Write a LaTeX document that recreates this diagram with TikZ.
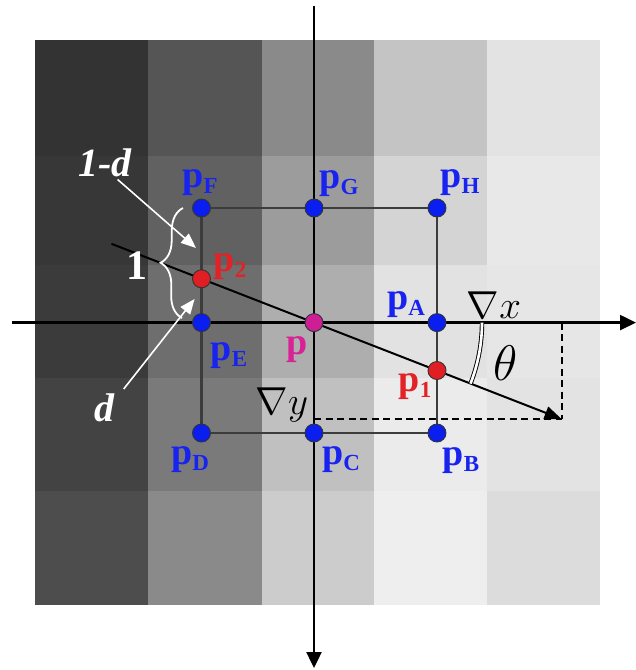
\documentclass[tikz,border=0pt]{standalone}
\usepackage{fix-cm}
\usepackage{fontspec}
\setmainfont{Liberation Serif}
\usetikzlibrary{arrows.meta,decorations.pathreplacing}
\definecolor{dotblue}{RGB}{10,30,240}
\definecolor{txtblue}{RGB}{25,35,240}
\definecolor{dotred}{RGB}{225,30,35}
\definecolor{txtred}{RGB}{225,35,40}
\definecolor{dotmag}{RGB}{205,30,150}
\definecolor{txtmag}{RGB}{215,35,150}
\definecolor{gridc}{RGB}{60,60,60}
\newcommand\pLab[1]{{\fontsize{38}{38}\selectfont\bfseries p}{\raisebox{-6pt}{\fontsize{23}{23}\selectfont\bfseries #1}}}
\begin{document}
\begin{tikzpicture}[x=1pt,y=-1pt,
  dotb/.style={circle, minimum size=18pt, inner sep=0pt, fill=dotblue, draw=black!80, line width=0.9pt},
  dotr/.style={dotb, fill=dotred},
  dotm/.style={dotb, fill=dotmag},
  lab/.style={inner sep=0pt, anchor=center},
  bluelab/.style={lab, text=txtblue},
  redlab/.style={lab, text=txtred},
  whitelab/.style={lab, text=white, font=\fontsize{42}{42}\selectfont\bfseries},
  gridl/.style={draw=gridc, line width=2.8pt},
  axis/.style={draw=black, line width=2.4pt, -{Triangle[length=16pt,width=15pt]}},
  gradl/.style={draw=black, line width=2pt, -{Triangle[length=17pt,width=13pt]}},
  dashl/.style={draw=black, line width=1.8pt, dash pattern=on 7pt off 4.5pt},
  warrow/.style={draw=white, line width=1.6pt, -{Triangle[length=15pt,width=12pt]}},
  mathlab/.style={lab, text=black, font=\fontsize{39}{39}\selectfont}
]
\useasboundingbox (0,0) rectangle (636,670);
\fill[white] (0,0) rectangle (636,670);
% gray cells
\foreach \ya/\yb/\ga/\gb/\gc/\gd/\ge in {40/156/51/85/138/196/227, 156/265/55/97/156/212/232, 265/378/59/110/174/226/230, 378/491/67/122/192/235/227, 491/605/77/138/204/238/220}{
  \definecolor{ca}{RGB}{\ga,\ga,\ga}
  \definecolor{cb}{RGB}{\gb,\gb,\gb}
  \definecolor{cc}{RGB}{\gc,\gc,\gc}
  \definecolor{cd}{RGB}{\gd,\gd,\gd}
  \definecolor{ce}{RGB}{\ge,\ge,\ge}
  \fill[ca] (35,\ya) rectangle (148.5,\yb);
  \fill[cb] (148,\ya) rectangle (262,\yb);
  \fill[cc] (261.5,\ya) rectangle (374,\yb);
  \fill[cd] (373.5,\ya) rectangle (487.5,\yb);
  \fill[ce] (487,\ya) rectangle (600,\yb);
}
% grid coordinates
\coordinate (cF) at (201.5,208);
\coordinate (cG) at (314,208);
\coordinate (cH) at (437,208);
\coordinate (cE) at (201.5,322.6);
\coordinate (cP) at (314,322.6);
\coordinate (cA) at (437,322.6);
\coordinate (cD) at (201.5,433);
\coordinate (cC) at (314,433);
\coordinate (cB) at (437,433);
\coordinate (c2) at (201.5,278.8);
\coordinate (c1) at (437,370.5);
% grid lines
\draw[gridl] (cF) -- (cH) -- (cB) -- (cD) -- cycle;
\draw[gridl] (cG) -- (cC);
\draw[gridl] (cE) -- (cA);
% axes
\coordinate (axL) at (12,322.6);
\coordinate (axR) at (636,322.6);
\coordinate (axT) at (314,6);
\coordinate (axB) at (314,668);
\draw[axis] (axL) -- (axR);
\draw[axis] (axT) -- (axB);
% gradient
\coordinate (gs) at (111.5,243.8);
\coordinate (gt) at (561.6,419);
\coordinate (gx) at (561.6,322.6);
\coordinate (gy) at (314,419);
\draw[dashl] (gx) -- (gt);
\draw[dashl] (gy) -- (gt);
\draw[gradl] (gs) -- (gt);
% angle arc
\draw[black, line width=0.9pt, double=white, double distance=2.6pt] (cP) ++(168,0) arc[start angle=0, end angle=21.3, radius=168];
% dots
\node[dotb] (dF) at (cF) {};
\node[dotb] (dG) at (cG) {};
\node[dotb] (dH) at (cH) {};
\node[dotb] (dE) at (cE) {};
\node[dotm] (dP) at (cP) {};
\node[dotb] (dA) at (cA) {};
\node[dotb] (dD) at (cD) {};
\node[dotb] (dC) at (cC) {};
\node[dotb] (dB) at (cB) {};
\node[dotr] (d2) at (c2) {};
\node[dotr] (d1) at (c1) {};
% labels
\node[bluelab] (lF) at (200,183) {\pLab{F}};
\node[bluelab] (lG) at (339,184) {\pLab{G}};
\node[bluelab] (lH) at (460,183) {\pLab{H}};
\node[bluelab] (lA) at (406,305) {\pLab{A}};
\node[bluelab] (lE) at (229,356) {\pLab{E}};
\node[bluelab] (lD) at (190,460) {\pLab{D}};
\node[bluelab] (lC) at (341,460) {\pLab{C}};
\node[bluelab] (lB) at (461,461) {\pLab{B}};
\node[redlab] (l1) at (415,387) {\pLab{1}};
\node[redlab] (l2) at (230,267) {\pLab{2}};
\node[lab, text=txtmag] (lP) at (297,350) {\fontsize{38}{38}\selectfont\bfseries p};
\node[mathlab] (lgx) at (494,305) {$\nabla x$};
\node[mathlab] (lgy) at (282,405) {$\nabla y$};
\node[lab, text=black, font=\fontsize{50}{50}\selectfont] (lth) at (506,363) {$\theta$};
% brace and white labels
\coordinate (bb) at (182,318);
\coordinate (bt) at (183,208);
\draw[white, line width=1.8pt, decorate, decoration={brace, amplitude=22pt}] (bb) -- (bt);
\node[whitelab] (lone) at (137,266) {1};
\node[whitelab, font=\fontsize{40}{40}\selectfont\bfseries\itshape] (l1d) at (105,163) {1-d};
\node[whitelab, font=\fontsize{40}{40}\selectfont\bfseries\itshape] (ld) at (104,408) {d};
\coordinate (a1s) at (117.6,179.5);
\coordinate (a1t) at (196,248);
\coordinate (a2s) at (123.7,389);
\coordinate (a2t) at (194.6,299);
\draw[warrow] (a1s) -- (a1t);
\draw[warrow] (a2s) -- (a2t);
\end{tikzpicture}
\end{document}
